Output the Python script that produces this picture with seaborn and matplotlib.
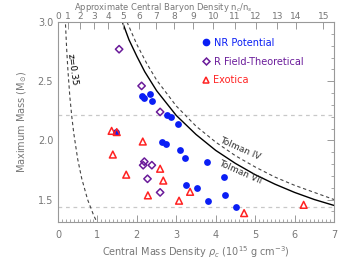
import numpy as np
import pandas as pd
import matplotlib
matplotlib.use("Agg")
import matplotlib.pyplot as plt
import seaborn as sns
from matplotlib.lines import Line2D
from matplotlib.ticker import MultipleLocator

# NR potential models (central density, max mass)
nr_rho = [1.46, 2.13, 2.19, 2.33, 2.39, 2.76, 2.86, 3.04, 2.64, 2.74, 3.10, 3.23,
          3.79, 4.20, 3.24, 3.52, 3.81, 4.24, 4.51]
nr_mass = [2.07, 2.375, 2.36, 2.39, 2.33, 2.21, 2.20, 2.135, 1.99, 1.97, 1.92, 1.85,
           1.815, 1.69, 1.62, 1.60, 1.49, 1.54, 1.44]

# relativistic field-theoretical models
rf_rho = [1.55, 2.12, 2.59, 2.19, 2.16, 2.38, 2.27, 2.59]
rf_mass = [2.77, 2.46, 2.24, 1.82, 1.79, 1.79, 1.675, 1.56]

# exotica
ex_rho = [1.36, 1.49, 2.15, 1.39, 2.59, 1.73, 2.67, 2.28, 3.07, 3.35, 4.72, 6.23]
ex_mass = [2.08, 2.07, 1.99, 1.88, 1.76, 1.71, 1.66, 1.535, 1.49, 1.565, 1.385, 1.455]

# curves
tolman7_rho = [1.60, 1.8, 2.0, 2.2, 2.5, 3.0, 3.5, 4.0, 4.5, 5.0, 5.5, 6.0, 6.5, 7.0]
tolman7_mass = [3.03, 2.85, 2.71, 2.58, 2.42, 2.21, 2.05, 1.915, 1.805, 1.71, 1.63, 1.56, 1.50, 1.45]
tolman4_rho = [1.75, 2.0, 2.25, 2.5, 3.0, 3.5, 4.0, 4.5, 5.0, 5.5, 6.0, 6.5, 7.0]
tolman4_mass = [3.0, 2.81, 2.65, 2.51, 2.29, 2.12, 1.985, 1.87, 1.775, 1.69, 1.62, 1.56, 1.50]
z035_rho = [0.19, 0.22, 0.25, 0.3, 0.35, 0.4, 0.5, 0.6, 0.75, 0.9, 1.0]
z035_mass = [2.98, 2.77, 2.6, 2.37, 2.2, 2.06, 1.84, 1.68, 1.50, 1.37, 1.30]

mass_lines = [2.21, 1.44]

baryon_labels = [str(i) for i in range(16)]
baryon_pos = [0.01, 0.26, 0.56, 0.92, 1.28, 1.66, 2.06, 2.49, 2.94, 3.42, 3.94, 4.49,
              5.02, 5.56, 6.03, 6.73]

sns.set_style("white")
plt.rcParams["font.family"] = ["DejaVu Sans"]

blue = "#0a1ef5"
purple = "#6a1b9a"
red = "#ff2222"
axcol = "#999999"
txtcol = "#777777"

fig = plt.figure(figsize=(3.52, 2.6), dpi=100)
ax = fig.add_axes([58 / 352, 1 - 222 / 260, 276 / 352, 200 / 260])

for m in mass_lines:
    ax.axhline(m, color="#c8c8c8", ls=(0, (3, 3)), lw=0.9, zorder=1)

sns.lineplot(x=tolman7_rho, y=tolman7_mass, ax=ax, color="black", lw=1.0, sort=False)
sns.lineplot(x=tolman4_rho, y=tolman4_mass, ax=ax, color="#444444", lw=0.8,
             linestyle=(0, (3, 2.5)), sort=False)
sns.lineplot(x=z035_rho, y=z035_mass, ax=ax, color="#444444", lw=0.8,
             linestyle=(0, (3, 2.5)), sort=False)

sns.scatterplot(x=nr_rho, y=nr_mass, ax=ax, marker="o", color=blue, s=24,
                linewidth=0, zorder=3)
sns.scatterplot(x=rf_rho, y=rf_mass, ax=ax, marker="D", facecolor="none",
                edgecolor=purple, s=14, linewidth=1.1, zorder=3)
sns.scatterplot(x=ex_rho, y=ex_mass, ax=ax, marker="^", facecolor="none",
                edgecolor=red, s=24, linewidth=1.1, zorder=3)

ax.set_xlim(0, 7)
ax.set_ylim(1.31, 3.0)
ax.xaxis.set_major_locator(MultipleLocator(1))
ax.xaxis.set_minor_locator(MultipleLocator(0.1))
ax.yaxis.set_major_locator(MultipleLocator(0.5))
ax.yaxis.set_minor_locator(MultipleLocator(0.1))
ax.tick_params(which="both", direction="in", colors=axcol, labelcolor=txtcol,
               labelsize=7, right=True)
ax.tick_params(which="major", length=5, width=0.7)
ax.tick_params(which="minor", length=2.5, width=0.6)
ax.tick_params(axis="x", pad=6)
for s in ax.spines.values():
    s.set_color(axcol)
    s.set_linewidth(0.8)

ax.set_xlabel(r"Central Mass Density $\rho_c$ (10$^{15}$ g cm$^{-3}$)", fontsize=7,
              color=txtcol, labelpad=3)
ax.set_ylabel(r"Maximum Mass (M$_{\odot}$)", fontsize=7, color=txtcol, labelpad=6)

ax2 = ax.twiny()
ax2.set_xlim(0, 7)
ax2.set_xticks(baryon_pos)
ax2.set_xticklabels(baryon_labels)
ax2.tick_params(direction="in", colors=axcol, labelcolor=txtcol, labelsize=6.5,
                length=5, width=0.7, pad=0.5)
for s in ax2.spines.values():
    s.set_visible(False)
fig.text(163 / 352, 1 - 0.5 / 260, r"Approximate Central Baryon Density n$_c$/n$_s$",
         fontsize=6, color=txtcol, ha="center", va="top")

ax.text(0.37, 2.6, "z=0.35", rotation=-82, fontsize=6.5, color="black",
        ha="center", va="center")
ax.text(4.62, 1.93, "Tolman IV", rotation=-24, fontsize=6.5, color="#333333",
        ha="center", va="center")
ax.text(4.62, 1.73, "Tolman VII", rotation=-24, fontsize=6.5, color="#333333",
        ha="center", va="center")

handles = [
    Line2D([], [], marker="o", ls="none", color=blue, markersize=4.5),
    Line2D([], [], marker="D", ls="none", markerfacecolor="none",
           markeredgecolor=purple, markersize=3.5, markeredgewidth=1.1),
    Line2D([], [], marker="^", ls="none", markerfacecolor="none",
           markeredgecolor=red, markersize=4.5, markeredgewidth=1.1),
]
labels = ["NR Potential", "R Field-Theoretical", "Exotica"]
leg = ax.legend(handles, labels, loc="upper left", bbox_to_anchor=(0.50, 0.94),
                frameon=False, fontsize=7, handletextpad=0.2, labelspacing=0.9,
                handlelength=1.2, borderaxespad=0)
for t, c in zip(leg.get_texts(), [blue, purple, red]):
    t.set_color(c)

fig.savefig("out.png", dpi=100)
